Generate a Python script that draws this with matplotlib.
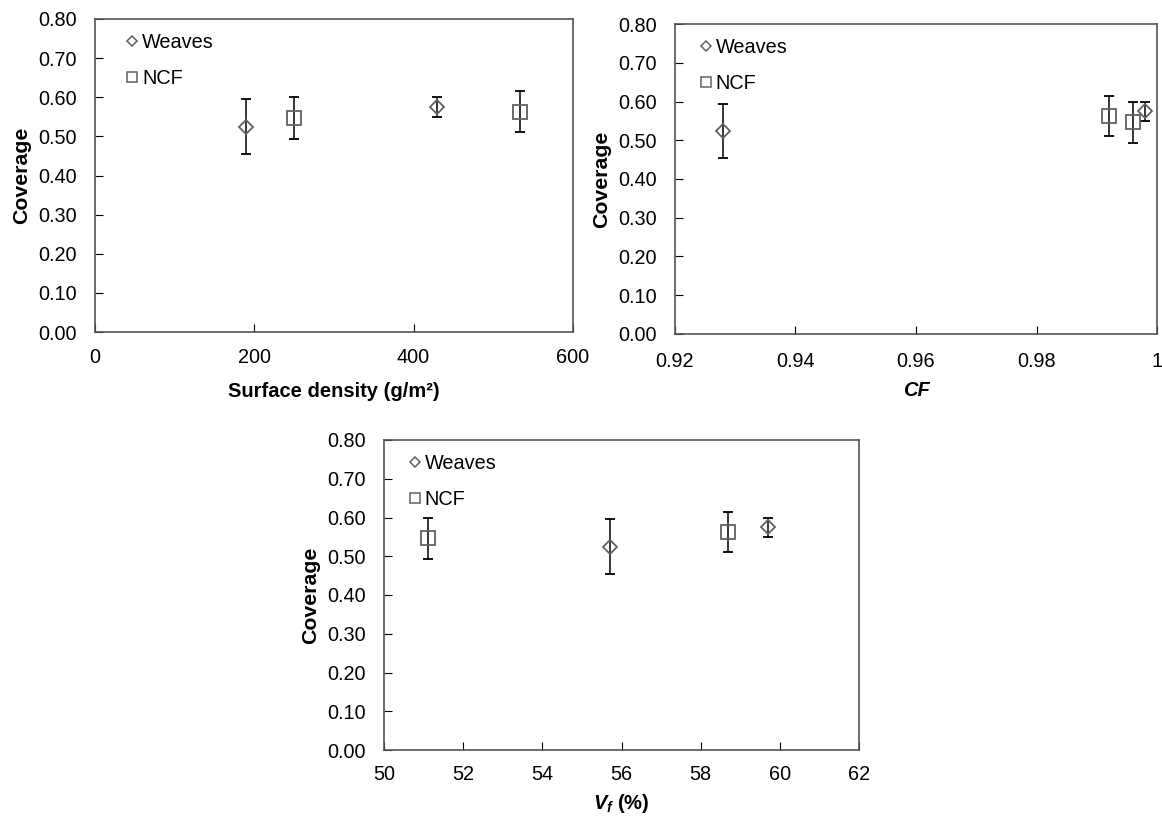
import numpy as np
import matplotlib.pyplot as plt
from matplotlib.lines import Line2D

plt.rcParams['font.family'] = ['Liberation Sans', 'DejaVu Sans']
plt.rcParams['mathtext.fontset'] = 'custom'
plt.rcParams['mathtext.it'] = 'Liberation Sans:italic:bold'
plt.rcParams['mathtext.bf'] = 'Liberation Sans:bold'
plt.rcParams['mathtext.rm'] = 'Liberation Sans:bold'

# -----------------------------------------------------------------------------
# Data
# -----------------------------------------------------------------------------
weaves_coverage = [0.525, 0.575]
weaves_error_low = [0.070, 0.025]
weaves_error_high = [0.070, 0.025]
weaves_density = [190, 429]
weaves_cf = [0.928, 0.998]
weaves_vf = [55.7, 59.7]

ncf_coverage = [0.547, 0.563]
ncf_error_low = [0.054, 0.051]
ncf_error_high = [0.053, 0.052]
ncf_density = [250, 533]
ncf_cf = [0.996, 0.992]
ncf_vf = [51.1, 58.7]

y_ticks = [0.0, 0.1, 0.2, 0.3, 0.4, 0.5, 0.6, 0.7, 0.8]

edge_color = "#606060"
text_size = 14.3

figure = plt.figure(figsize=(11.62, 8.18), dpi=100)

# axes positions in pixels (left, top, right, bottom)
W, H = 1162.0, 818.0


def place(left, top, right, bottom):
    return figure.add_axes([left / W, 1 - bottom / H,
                            (right - left) / W, (bottom - top) / H])


ax1 = place(94.5, 19, 573, 332)
ax2 = place(675, 24.3, 1157, 333.7)
ax3 = place(384, 440, 859, 750)


def draw_panel(axis, weaves_x, ncf_x, legend_x):
    axis.errorbar(
        weaves_x, weaves_coverage,
        yerr=[weaves_error_low, weaves_error_high],
        fmt="D", markersize=7, markerfacecolor="none",
        markeredgecolor=edge_color, markeredgewidth=1.3,
        ecolor="black", elinewidth=1.1, capsize=3.3, capthick=1.1
    )
    axis.errorbar(
        ncf_x, ncf_coverage,
        yerr=[ncf_error_low, ncf_error_high],
        fmt="s", markersize=10, markerfacecolor="none",
        markeredgecolor=edge_color, markeredgewidth=1.3,
        ecolor="black", elinewidth=1.1, capsize=3.3, capthick=1.1
    )
    axis.set_ylim(0, 0.8)
    axis.set_yticks(y_ticks)
    axis.set_yticklabels([f"{v:.2f}" for v in y_ticks])
    axis.set_ylabel("Coverage", fontsize=15.3, fontweight="bold", labelpad=5)
    axis.tick_params(axis="y", direction="in", length=6, labelsize=text_size,
                     pad=13)
    axis.tick_params(axis="x", direction="in", length=6, labelsize=text_size,
                     pad=11.5)
    for spine in axis.spines.values():
        spine.set_color("#555555")
        spine.set_linewidth(1.2)
    handles = [
        Line2D([], [], linestyle="none", marker="D", markersize=5.2,
               markerfacecolor="none", markeredgecolor=edge_color,
               markeredgewidth=1.1),
        Line2D([], [], linestyle="none", marker="s", markersize=7.7,
               markerfacecolor="none", markeredgecolor=edge_color,
               markeredgewidth=1.1),
    ]
    axis.legend(
        handles, ["Weaves", "NCF"],
        loc="upper left", bbox_to_anchor=(legend_x, 0.955),
        frameon=False, fontsize=text_size,
        handletextpad=0.0, handlelength=1.0, labelspacing=0.86,
        borderaxespad=0.0, borderpad=0.0
    )
    return axis


draw_panel(ax1, weaves_density, ncf_density, 0.058)
ax1.set_xlim(0, 600)
ax1.set_xticks([0, 200, 400, 600])
ax1.set_xlabel("Surface density (g/m²)", fontsize=14.5,
               fontweight="bold", labelpad=11)

draw_panel(ax2, weaves_cf, ncf_cf, 0.043)
ax2.tick_params(axis="x", pad=13)
ax2.set_xlim(0.92, 1.0)
ax2.set_xticks([0.92, 0.94, 0.96, 0.98, 1.0])
ax2.set_xticklabels(["0.92", "0.94", "0.96", "0.98", "1"])
ax2.set_xlabel("CF", fontsize=14.5, fontweight="bold", fontstyle="italic",
               labelpad=7.5)

draw_panel(ax3, weaves_vf, ncf_vf, 0.044)
ax3.tick_params(axis="x", pad=10.5)
ax3.set_xlim(50, 62)
ax3.set_xticks([50, 52, 54, 56, 58, 60, 62])
ax3.set_xlabel(r"$V_f$ (%)", fontsize=14.5, fontweight="bold", labelpad=6)

plt.savefig("out.png", dpi=100)
